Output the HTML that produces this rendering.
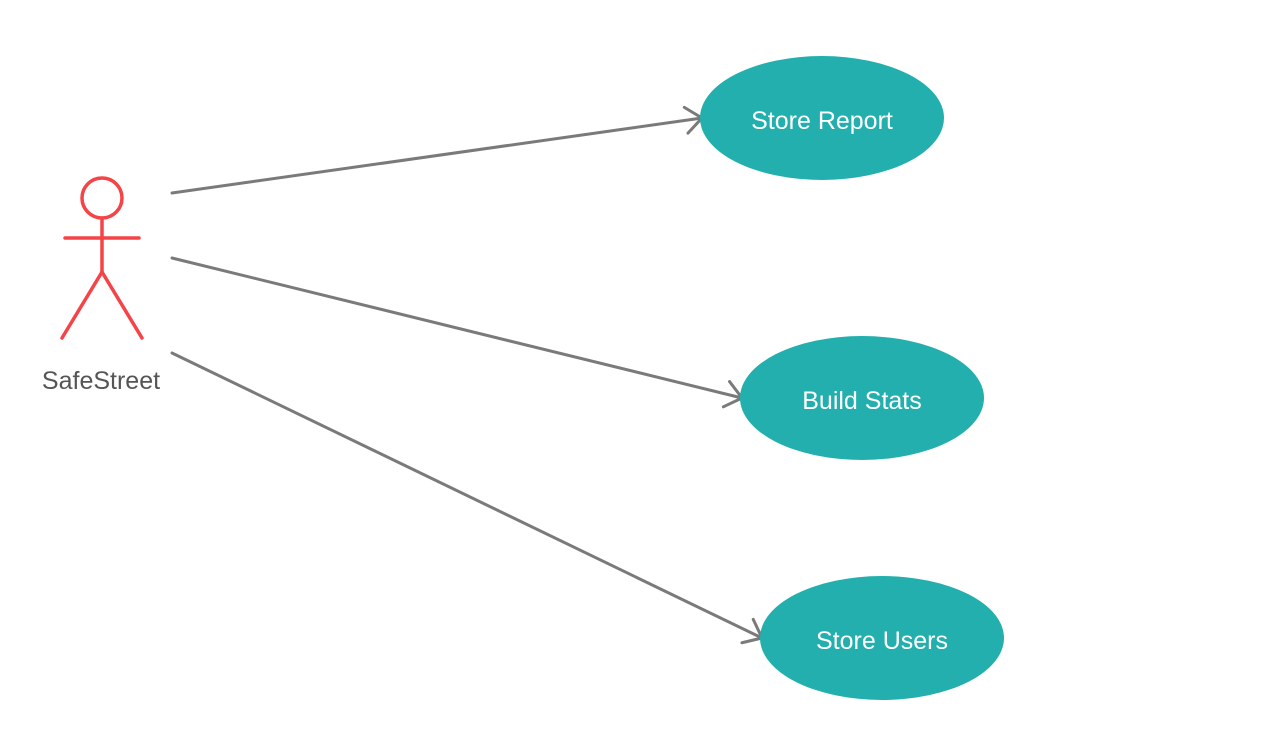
<!DOCTYPE html>
<html><head><meta charset="utf-8"><style>
html,body{margin:0;padding:0;background:#fff;}
svg{display:block}
</style></head><body>
<svg width="1262" height="738" viewBox="0 0 1262 738" xmlns="http://www.w3.org/2000/svg">
<defs>
<marker id="a" markerUnits="userSpaceOnUse" markerWidth="30" markerHeight="32" refX="19" refY="15" orient="auto">
<path d="M3,2 L19,15 L3,28" fill="none" stroke="#7a7a7a" stroke-width="3" stroke-linecap="round" stroke-linejoin="round"/>
</marker>
</defs>
<g stroke="#7a7a7a" stroke-width="3" stroke-linecap="round" fill="none">
<line x1="172" y1="193" x2="702" y2="118" marker-end="url(#a)"/>
<line x1="172" y1="258" x2="742" y2="398" marker-end="url(#a)"/>
<line x1="172" y1="353" x2="762" y2="638" marker-end="url(#a)"/>
</g>
<g fill="#23afad">
<ellipse cx="822" cy="118" rx="122" ry="62"/>
<ellipse cx="862" cy="398" rx="122" ry="62"/>
<ellipse cx="882" cy="638" rx="122" ry="62"/>
</g>
<g fill="#fff" font-family="Liberation Sans, sans-serif" font-size="25" text-anchor="middle">
<text x="822" y="129">Store Report</text>
<text x="862" y="409">Build Stats</text>
<text x="882" y="649">Store Users</text>
</g>
<g stroke="#f54447" stroke-width="3.5" stroke-linecap="round" fill="none">
<circle cx="102" cy="198" r="20"/>
<line x1="102" y1="218" x2="102" y2="272"/>
<line x1="65" y1="238" x2="139" y2="238"/>
<line x1="102" y1="272" x2="62" y2="338"/>
<line x1="102" y1="272" x2="142" y2="338"/>
</g>
<text x="101" y="389" fill="#555" font-family="Liberation Sans, sans-serif" font-size="25" text-anchor="middle">SafeStreet</text>
</svg>
</body></html>
